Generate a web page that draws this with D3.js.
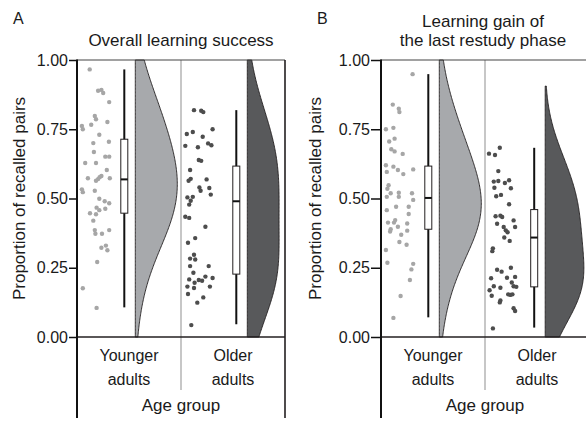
<!DOCTYPE html>
<html>
<head>
<meta charset="utf-8">
<script src="https://cdn.jsdelivr.net/npm/d3@7"></script>
<style>
  body { margin: 0; background: #fff; }
  svg { display: block; font-family: "Liberation Sans", Arial, sans-serif; }
</style>
</head>
<body>
<script>
// categories and labels
var groups = ["Younger adults", "Older adults"];
var yTicks = [0, 0.25, 0.5, 0.75, 1];
var panelLetters = ["A", "B"];
var panelTitles = [["Overall learning success"], ["Learning gain of", "the last restudy phase"]];
var xTitle = "Age group";
var yTitle = "Proportion of recalled pairs";

// raw points: [proportion, jitter (0..1 across the dot strip)]
var youngA = [[0.966,0.29],[0.889,0.57],[0.892,0.68],[0.881,0.74],[0.848,0.94],[0.798,0.46],[0.786,0.50],
  [0.776,0.88],[0.762,0.03],[0.750,0.06],[0.766,0.34],[0.730,0.61],[0.700,0.41],[0.705,0.93],[0.668,0.43],
  [0.651,0.81],[0.651,0.94],[0.628,0.14],[0.628,0.50],[0.603,0.86],[0.573,0.23],[0.570,0.57],[0.577,0.62],
  [0.581,0.68],[0.573,0.96],[0.564,0.50],[0.533,0.03],[0.523,0.06],[0.528,0.46],[0.499,0.61],[0.490,0.79],
  [0.483,0.94],[0.467,0.52],[0.458,0.61],[0.463,0.81],[0.447,0.30],[0.443,0.50],[0.420,0.41],[0.386,0.46],
  [0.373,0.48],[0.373,0.70],[0.386,0.94],[0.322,0.68],[0.330,0.83],[0.313,0.88],[0.271,0.54],[0.176,0.06],
  [0.105,0.52]];
var olderA = [[0.819,0.30],[0.817,0.54],[0.812,0.61],[0.750,0.92],[0.733,0.06],[0.740,0.26],[0.723,0.59],
  [0.690,0.01],[0.685,0.43],[0.699,0.77],[0.692,0.88],[0.639,0.46],[0.636,0.54],[0.603,0.17],[0.564,0.12],
  [0.571,0.19],[0.569,0.72],[0.540,0.48],[0.528,0.52],[0.538,0.81],[0.514,0.86],[0.504,0.08],[0.506,0.26],
  [0.492,0.19],[0.478,0.14],[0.434,0.01],[0.430,0.14],[0.398,0.68],[0.357,0.34],[0.340,0.10],[0.297,0.30],
  [0.283,0.17],[0.280,0.34],[0.256,0.17],[0.256,0.79],[0.232,0.28],[0.208,0.14],[0.218,0.68],[0.213,0.92],
  [0.203,0.57],[0.196,0.32],[0.206,0.46],[0.182,0.08],[0.177,0.30],[0.182,0.83],[0.155,0.10],[0.143,0.61],
  [0.124,0.41],[0.043,0.21]];
var youngB = [[0.949,0.92],[0.839,0.26],[0.824,0.46],[0.812,0.48],[0.750,0.03],[0.755,0.28],[0.706,0.14],
  [0.716,0.32],[0.678,0.21],[0.670,0.32],[0.661,0.59],[0.620,0.03],[0.596,0.06],[0.615,0.28],[0.603,0.43],
  [0.588,0.61],[0.605,0.94],[0.548,0.12],[0.535,0.08],[0.519,0.19],[0.506,0.06],[0.521,0.46],[0.506,0.46],
  [0.519,0.90],[0.495,0.94],[0.458,0.06],[0.470,0.37],[0.470,0.79],[0.444,0.79],[0.413,0.10],[0.413,0.30],
  [0.422,0.34],[0.389,0.19],[0.381,0.17],[0.398,0.43],[0.410,0.74],[0.384,0.74],[0.369,0.54],[0.343,0.48],
  [0.333,0.72],[0.314,0.03],[0.268,0.08],[0.264,0.94],[0.244,0.88],[0.206,0.83],[0.148,0.52],[0.069,0.28]];
var olderB = [[0.662,0.00],[0.657,0.20],[0.683,0.36],[0.599,0.31],[0.561,0.16],[0.563,0.31],[0.556,0.53],
  [0.566,0.67],[0.539,0.18],[0.537,0.73],[0.508,0.24],[0.513,0.40],[0.479,0.67],[0.436,0.22],[0.438,0.38],
  [0.433,0.44],[0.409,0.27],[0.397,0.49],[0.421,0.82],[0.397,0.87],[0.385,0.56],[0.378,0.62],[0.359,0.51],
  [0.347,0.69],[0.320,0.13],[0.310,0.11],[0.243,0.27],[0.236,0.42],[0.250,0.73],[0.212,0.07],[0.183,0.16],
  [0.178,0.38],[0.169,0.02],[0.214,0.60],[0.217,0.87],[0.197,0.76],[0.183,0.82],[0.181,0.91],[0.149,0.09],
  [0.132,0.38],[0.125,0.36],[0.154,0.64],[0.152,0.71],[0.154,0.78],[0.104,0.82],[0.094,0.87],[0.031,0.13]];

// box plot stats: [lower whisker, q1, median, q3, upper whisker]
var boxYoungA = [0.107, 0.447, 0.569, 0.714, 0.966];
var boxOlderA = [0.046, 0.227, 0.490, 0.617, 0.819];
var boxYoungB = [0.071, 0.389, 0.502, 0.617, 0.949];
var boxOlderB = [0.034, 0.181, 0.359, 0.460, 0.683];

var panels = [
  {letter: panelLetters[0], title: panelTitles[0], points: [youngA, olderA], boxes: [boxYoungA, boxOlderA],
   left: 77, boxPos: [47.3, 55.3], tickLen: 8, yTitleOff: 58, titleDx: 0},
  {letter: panelLetters[1], title: panelTitles[1], points: [youngB, olderB], boxes: [boxYoungB, boxOlderB],
   left: 381, boxPos: [47.3, 49.2], tickLen: 10, yTitleOff: 66, titleDx: -2}
];

var width = 586, height = 423;
var plotTop = 60, plotBottom = 337, panelW = 208, frameBottom = 418;
var fills = ["#a7a9ac", "#58595b"];
var dotFills = ["#a6a6a6", "#4d4d4d"];
var textCol = "#1a1a1a";
var maxViolin = 42;
var bwAdjust = 1.7;

var svg = d3.select("body").append("svg")
  .attr("width", width)
  .attr("height", height);

var y = d3.scaleLinear().domain([0, 1]).range([plotBottom, plotTop]);

// gaussian kde, nrd0 bandwidth times an adjust factor;
// range runs 3 (unadjusted) bandwidths past the data, clipped to 0..1
function kde(values) {
  var v = values.slice().sort(d3.ascending);
  var sd = d3.deviation(v);
  var iqr = d3.quantile(v, 0.75) - d3.quantile(v, 0.25);
  var bw0 = 0.9 * Math.min(sd, iqr / 1.34) * Math.pow(v.length, -0.2);
  var bw = bwAdjust * bw0;
  var lo = Math.max(0, v[0] - 3 * bw0), hi = Math.min(1, v[v.length - 1] + 3 * bw0);
  var out = [];
  for (var i = 0; i <= 200; i++) {
    var t = lo + (hi - lo) * i / 200;
    var s = d3.sum(v, function(d) { var z = (t - d) / bw; return Math.exp(-0.5 * z * z); });
    out.push([t, s / (v.length * bw * Math.sqrt(2 * Math.PI))]);
  }
  return out;
}

panels.forEach(function(p) {
  var g = svg.append("g");
  var x = d3.scaleBand().domain(groups).range([p.left, p.left + panelW]);
  var dens = p.points.map(function(pts) { return kde(pts.map(function(d) { return d[0]; })); });
  var dmax = d3.max(dens, function(ds) { return d3.max(ds, function(d) { return d[1]; }); });

  groups.forEach(function(grp, i) {
    var x0 = x(grp);
    var bx = x0 + p.boxPos[i];
    var base = bx + 11;

    // half violin
    var area = d3.area()
      .x0(base)
      .x1(function(d) { return base + d[1] / dmax * maxViolin; })
      .y(function(d) { return y(d[0]); });
    g.append("path")
      .datum(dens[i])
      .attr("d", area)
      .attr("fill", fills[i])
      .attr("stroke", "#231f20")
      .attr("stroke-width", 0.9);

    // jittered dots
    g.selectAll(".dot" + i)
      .data(p.points[i])
      .enter().append("circle")
      .attr("cx", function(d) { return x0 + 4 + d[1] * 30; })
      .attr("cy", function(d) { return y(d[0]); })
      .attr("r", 2.2)
      .attr("fill", dotFills[i]);

    // box plot
    var b = p.boxes[i];
    g.append("line")
      .attr("x1", bx).attr("x2", bx)
      .attr("y1", y(b[0])).attr("y2", y(b[4]))
      .attr("stroke", "#111").attr("stroke-width", 2);
    g.append("rect")
      .attr("x", bx - 3.5).attr("width", 7)
      .attr("y", y(b[3])).attr("height", y(b[1]) - y(b[3]))
      .attr("fill", "#fff").attr("stroke", "#231f20").attr("stroke-width", 1);
    g.append("line")
      .attr("x1", bx - 3.5).attr("x2", bx + 3.5)
      .attr("y1", y(b[2])).attr("y2", y(b[2]))
      .attr("stroke", "#111").attr("stroke-width", 2);

    // category label
    var lab = grp.split(" ");
    g.append("text")
      .attr("x", x0 + x.bandwidth() / 2)
      .attr("y", 361)
      .attr("text-anchor", "middle")
      .style("font-size", "16px")
      .attr("fill", textCol)
      .selectAll("tspan").data(lab).enter().append("tspan")
      .attr("x", x0 + x.bandwidth() / 2)
      .attr("dy", function(d, k) { return k ? 24 : 0; })
      .text(function(d) { return d; });
  });

  // frame
  g.append("line")
    .attr("x1", p.left + panelW / 2).attr("x2", p.left + panelW / 2)
    .attr("y1", plotTop).attr("y2", 390)
    .attr("stroke", "#b5b5b5").attr("stroke-width", 1.5);
  g.append("line")
    .attr("x1", p.left).attr("x2", p.left + panelW)
    .attr("y1", plotTop).attr("y2", plotTop)
    .attr("stroke", "#444").attr("stroke-width", 1.2);
  g.append("line")
    .attr("x1", p.left).attr("x2", p.left + panelW)
    .attr("y1", plotBottom).attr("y2", plotBottom)
    .attr("stroke", "#231f20").attr("stroke-width", 1.5);
  g.append("line")
    .attr("x1", p.left + panelW).attr("x2", p.left + panelW)
    .attr("y1", plotTop).attr("y2", frameBottom)
    .attr("stroke", "#231f20").attr("stroke-width", 1.6);
  g.append("line")
    .attr("x1", p.left).attr("x2", p.left)
    .attr("y1", plotTop - 0.6).attr("y2", frameBottom)
    .attr("stroke", "#111").attr("stroke-width", 2);

  // y axis ticks
  var ax = g.append("g")
    .attr("transform", "translate(" + p.left + ",0)")
    .call(d3.axisLeft(y).tickValues(yTicks).tickFormat(d3.format(".2f"))
      .tickSize(p.tickLen).tickPadding(1));
  ax.select(".domain").remove();
  ax.selectAll(".tick line").attr("stroke", "#111").attr("stroke-width", 1.5);
  ax.selectAll(".tick text")
    .style("font-size", "16px")
    .style("font-family", "Liberation Sans, Arial, sans-serif")
    .attr("fill", textCol);

  // y title
  g.append("text")
    .attr("transform", "translate(" + (p.left - p.yTitleOff + 6) + "," + ((plotTop + plotBottom) / 2) + ") rotate(-90)")
    .attr("text-anchor", "middle")
    .style("font-size", "17px")
    .attr("fill", textCol)
    .text(yTitle);

  // x title
  g.append("text")
    .attr("x", p.left + panelW / 2)
    .attr("y", 411)
    .attr("text-anchor", "middle")
    .style("font-size", "17px")
    .attr("fill", textCol)
    .text(xTitle);

  // panel title
  var n = p.title.length;
  g.selectAll(".ptitle").data(p.title).enter().append("text")
    .attr("x", p.left + panelW / 2 + p.titleDx)
    .attr("y", function(d, k) { return 46 - (n - 1 - k) * 19; })
    .attr("text-anchor", "middle")
    .style("font-size", "17px")
    .attr("fill", textCol)
    .text(function(d) { return d; });

  // panel letter
  g.append("text")
    .attr("x", p.left - 64)
    .attr("y", 24)
    .style("font-size", "16px")
    .attr("fill", textCol)
    .text(p.letter);
});
</script>
</body>
</html>
